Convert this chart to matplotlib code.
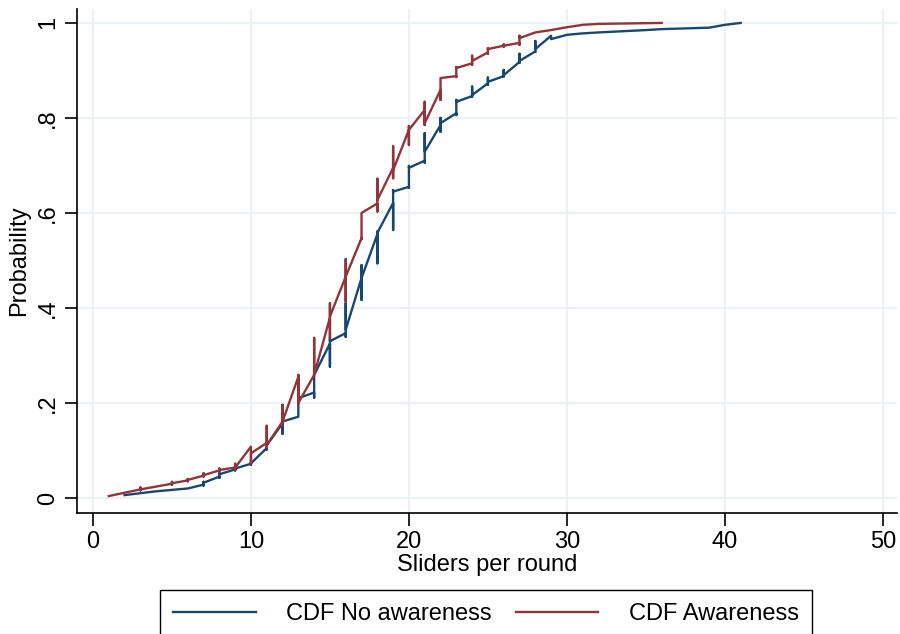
import matplotlib.pyplot as plt

plt.rcParams['font.family'] = ['Liberation Sans', 'DejaVu Sans']

# CDF No awareness: per slider count, span of the jump and where the line enters/leaves it
no_x = [2, 3, 4, 5, 6, 7, 8, 9, 10, 11, 12, 13, 14, 15, 16, 17, 18, 19, 20, 21,
        22, 23, 24, 25, 26, 27, 28, 29, 30, 31, 32, 35, 36, 39, 40, 41]
no_lo = [.006, .010, .014, .017, .020, .026, .042, .058, .070, .102, .135, .171, .211, .276,
         .339, .417, .494, .564, .653, .706, .771, .806, .845, .870, .887, .916, .939, .966,
         .975, .978, .980, .985, .987, .990, .996, 1.0]
no_hi = [.006, .010, .014, .017, .020, .034, .052, .064, .075, .112, .161, .213, .259, .337,
         .410, .490, .561, .648, .699, .768, .800, .838, .866, .885, .901, .935, .962, .973,
         .975, .978, .980, .985, .987, .990, .996, 1.0]
no_in = [.006, .010, .014, .017, .020, .028, .045, .060, .072, .105, .157, .171, .222, .325,
         .347, .463, .555, .621, .655, .710, .785, .810, .846, .873, .888, .918, .940, .973,
         .975, .978, .980, .985, .987, .990, .996, 1.0]
no_out = [.006, .010, .014, .017, .020, .032, .050, .062, .073, .111, .161, .210, .259, .330,
          .354, .463, .558, .645, .695, .729, .789, .834, .848, .876, .890, .920, .945, .966,
          .975, .978, .980, .985, .987, .990, .996, 1.0]

# CDF Awareness
aw_x = [1, 2, 3, 4, 5, 6, 7, 8, 9, 10, 11, 12, 13, 14, 15, 16, 17, 18, 19, 20, 21, 22,
        23, 24, 25, 26, 27, 28, 29, 30, 31, 32, 36]
aw_lo = [.004, .011, .016, .024, .028, .035, .045, .056, .062, .073, .107, .154, .200, .259,
         .337, .413, .545, .603, .673, .743, .785, .838, .886, .912, .935, .950, .954, .980,
         .985, .991, .996, .998, 1.0]
aw_hi = [.004, .011, .022, .024, .034, .040, .052, .062, .072, .108, .152, .196, .259, .337,
         .410, .503, .600, .672, .740, .783, .834, .884, .907, .931, .947, .955, .973, .980,
         .985, .991, .996, .998, 1.0]
aw_in = [.004, .011, .018, .024, .030, .037, .047, .058, .064, .108, .116, .161, .255, .259,
         .380, .466, .547, .620, .695, .775, .817, .859, .888, .915, .938, .952, .958, .980,
         .985, .991, .996, .998, 1.0]
aw_out = [.004, .011, .018, .024, .031, .038, .048, .059, .064, .094, .111, .161, .200, .259,
          .382, .466, .600, .627, .690, .775, .789, .884, .905, .920, .945, .952, .968, .980,
          .985, .991, .996, .998, 1.0]


def cdf_path(xs, lo, hi, yin, yout):
    px, py = [], []
    for x, a, b, i, o in zip(xs, lo, hi, yin, yout):
        px += [x, x, x, x]
        py += [i, a, b, o]
    return px, py


fig = plt.figure(figsize=(9, 6.34), dpi=100)
ax = fig.add_axes([0.0856, 0.1909, 0.9111, 0.7954])

grid_c = '#eaf2f3'
for gx in range(0, 51, 10):
    ax.axvline(gx, color=grid_c, lw=1.5, zorder=0)
for gy in [0, .2, .4, .6, .8, 1]:
    ax.axhline(gy, color=grid_c, lw=1.5, zorder=0)

bx, by = cdf_path(no_x, no_lo, no_hi, no_in, no_out)
rx, ry = cdf_path(aw_x, aw_lo, aw_hi, aw_in, aw_out)
ax.plot(bx, by, color='#1a476f', lw=1.7, solid_joinstyle='round', label='CDF No awareness')
ax.plot(rx, ry, color='#90353b', lw=1.7, solid_joinstyle='round', label='CDF Awareness')

ax.set_xlim(-1.01, 50.9)
ax.set_ylim(-0.0316, 1.03)
ax.set_xticks(range(0, 51, 10))
ax.set_yticks([0, .2, .4, .6, .8, 1])
ax.set_yticklabels(['0', '.2', '.4', '.6', '.8', '1'], rotation=90, va='center')
ax.tick_params(labelsize=17, length=9, width=1.2, color='black', pad=4)

for s in ['top', 'right']:
    ax.spines[s].set_visible(False)
for s in ['left', 'bottom']:
    ax.spines[s].set_linewidth(1.2)

ax.set_xlabel('Sliders per round', fontsize=17, labelpad=1)
ax.set_ylabel('Probability', fontsize=17, labelpad=5)

fig.legend(loc='upper center', bbox_to_anchor=(0.54, 0.0694), ncol=2, fontsize=17,
           frameon=True, fancybox=False, edgecolor='black', framealpha=1,
           handlelength=3.5, handletextpad=1.3, columnspacing=1.0, borderpad=0.55,
           borderaxespad=0)

fig.savefig('out.png', dpi=100)
